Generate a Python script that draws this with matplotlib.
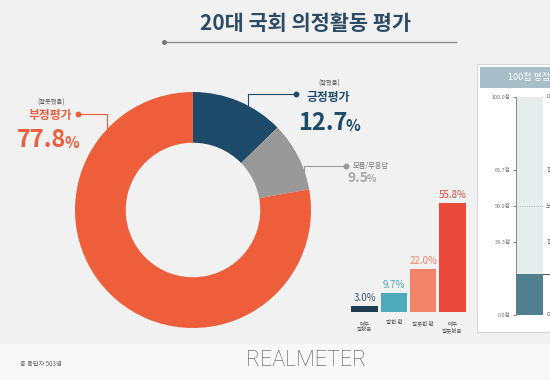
import matplotlib
matplotlib.use("Agg")
import matplotlib.pyplot as plt
from matplotlib.patches import Rectangle
from matplotlib.lines import Line2D

plt.rcParams['font.family'] = ['Noto Sans CJK KR', 'DejaVu Sans']

# ---- data ----
title = "20대 국회 의정활동 평가"
donut_labels = ["긍정평가", "모름/무응답", "부정평가"]
donut_sub = ["(잘했음)", "", "(잘못했음)"]
donut_values = [12.7, 9.5, 77.8]
donut_colors = ["#1d4a69", "#999999", "#ee5e3b"]

bar_labels = ["매우\n잘했음", "잘한 편", "잘못한 편", "매우\n잘못했음"]
bar_values = [3.0, 9.7, 22.0, 55.8]
bar_colors = ["#1f3b52", "#4eaab8", "#f0836a", "#e9483b"]

score_ticks = [0.0, 33.3, 50.0, 66.7, 100.0]
score_tick_labels = ["0.0점", "33.3점", "50.0점", "66.7점", "100.0점"]
score_value = 18.6
respondents = "총 응답자 503명"

W, H = 550, 380
fig = plt.figure(figsize=(W / 100, H / 100), dpi=100)
fig.patch.set_facecolor("#f1f1f1")


def fr(x0, y0, w, h):
    """pixel box (top-left origin) -> figure fraction rect"""
    return [x0 / W, 1 - (y0 + h) / H, w / W, h / H]


# background canvas in pixel coordinates
bg = fig.add_axes([0, 0, 1, 1])
bg.set_xlim(0, W)
bg.set_ylim(H, 0)
bg.axis("off")
bg.add_patch(Rectangle((0, 344), W, 36, facecolor="#f8f8f8", edgecolor="none", zorder=0))

# title
bg.text(306, 23, title, ha="center", va="center", fontsize=15, fontweight="bold", color="#2e4b64")
bg.add_line(Line2D([164, 456], [42, 42], color="#8a8a8a", lw=1.0))
bg.plot([164], [42], "o", color="#777777", ms=2.6)

# ---- donut ----
ax_d = fig.add_axes(fr(75, 92, 236, 236))
ax_d.pie(donut_values, colors=donut_colors, startangle=90, counterclock=False,
         radius=1, wedgeprops=dict(width=0.43, edgecolor="none"))
ax_d.set_xlim(-1, 1)
ax_d.set_ylim(-1, 1)
ax_d.set_aspect("equal")
ax_d.axis("off")

# labels for donut (overlay axis above donut)
ov = fig.add_axes([0, 0, 1, 1])
ov.set_xlim(0, W)
ov.set_ylim(H, 0)
ov.axis("off")
ov.patch.set_alpha(0)


def pct(x, y, value, size, psize, color):
    t = ov.text(x, y, f"{value:.1f}", ha="left", va="center", fontsize=size,
                fontweight="bold", color=color)
    ov.annotate("%", xy=(1, 0), xycoords=t, xytext=(-1.0, 0.6), textcoords="offset points",
                ha="left", va="bottom", fontsize=psize, fontweight="bold", color=color)


# positive
ov.plot([296, 248, 248], [94, 94, 110], color="#1d4a69", lw=0.8)
ov.plot([296], [94], "o", color="#1d4a69", ms=3.2)
ov.text(329, 84, donut_sub[0], ha="center", va="center", fontsize=4.5, color="#555555")
ov.text(307, 97, donut_labels[0], ha="left", va="center", fontsize=8.5, fontweight="bold", color="#1d4a69")
pct(298, 123, donut_values[0], 17, 11, "#1d4a69")

# unknown
ov.plot([346, 304, 304], [166, 166, 176], color="#999999", lw=0.8)
ov.plot([346], [166], "o", color="#999999", ms=3.2)
ov.text(353, 166, donut_labels[1], ha="left", va="center", fontsize=5.2, color="#777777")
pct(347, 178, donut_values[1], 10, 7, "#a8a8a8")

# negative
ov.plot([78, 107, 107], [114, 114, 135], color="#ee5e3b", lw=0.8)
ov.plot([78], [114], "o", color="#ee5e3b", ms=3.2)
ov.text(51, 103, donut_sub[2], ha="center", va="center", fontsize=4.5, color="#555555")
ov.text(72, 116, donut_labels[2], ha="right", va="center", fontsize=8.5, fontweight="bold", color="#ee5e3b")
pct(17, 140, donut_values[2], 17, 11, "#ee5e3b")

# ---- bar chart ----
ax_b = fig.add_axes(fr(350, 197, 117, 115))
xs = list(range(len(bar_values)))
ax_b.bar(xs, bar_values, width=0.9, color=bar_colors, edgecolor="none")
ax_b.set_xlim(-0.5, len(bar_values) - 0.5)
ax_b.set_ylim(0, 59)
ax_b.axis("off")
for x, v, c in zip(xs, bar_values, bar_colors):
    ax_b.annotate(f"{v:.1f}%", (x, v), xytext=(0, 2.5), textcoords="offset points",
                  ha="center", va="bottom", fontsize=7, color=c if x else "#3d5568")
for x, lab in zip(xs, bar_labels):
    ax_b.annotate(lab, (x, 0), xytext=(0, -6), textcoords="offset points",
                  ha="center", va="top", fontsize=4, color="#555555", linespacing=1.3,
                  annotation_clip=False)

# ---- right panel ----
bg.add_patch(Rectangle((477, 64), 80, 268, facecolor="#ffffff", edgecolor="#d8d8d8", lw=0.8, zorder=1))
bg.add_patch(Rectangle((480, 67), 80, 21, facecolor="#a8bec8", edgecolor="none", zorder=2))
bg.text(508, 77.5, "100점 평점", ha="left", va="center", fontsize=6.5, color="#ffffff", zorder=3)

ax_s = fig.add_axes(fr(516, 97, 27, 218))
ax_s.set_ylim(0, 100)
ax_s.set_xlim(0, 1)
ax_s.bar([0.5], [100], width=1, color="#e7eded", edgecolor="none")
ax_s.bar([0.5], [score_value], width=1, color="#507f8f", edgecolor="none")
ax_s.axhline(50, xmin=-0.2, xmax=1, color="#9aa7ad", lw=0.6, ls=":", clip_on=False)
ax_s.axhline(score_value, xmin=1, xmax=1.25, color="#333333", lw=0.6, clip_on=False)
ax_s.set_yticks(score_ticks)
ax_s.set_yticklabels(score_tick_labels, fontsize=4, color="#777777")
ax_s.tick_params(axis="y", length=2, width=0.6, color="#777777", pad=2)
ax_s.set_xticks([])
for s in ["top", "right", "bottom"]:
    ax_s.spines[s].set_visible(False)
ax_s.spines["left"].set_color("#777777")
ax_s.spines["left"].set_linewidth(0.6)
ax_s.patch.set_alpha(0)
for y, t in zip([100, 66.7, 50, 33.3, 0], ["매", "잘", "보", "잘", "매"]):
    ax_s.text(1.12, y, t, transform=ax_s.get_yaxis_transform(), fontsize=4.5,
              color="#777777", va="center", ha="left", clip_on=False)

# ---- footer ----
bg.text(20, 364, respondents, ha="left", va="center", fontsize=4.5, color="#666666")
bg.text(306, 361, "REALMETER", ha="center", va="center", fontsize=15.5,
        family=["Liberation Sans Narrow", "Roboto", "DejaVu Sans"], fontweight="light",
        color="#555555")

fig.savefig("out.png", dpi=100, facecolor=fig.get_facecolor())
